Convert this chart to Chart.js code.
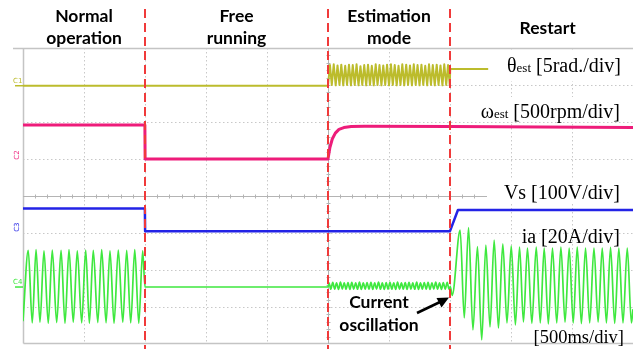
<!DOCTYPE html>
<html>
<head>
<meta charset="utf-8">
<script src="https://cdn.jsdelivr.net/npm/chart.js@4.4.1/dist/chart.umd.min.js"></script>
<style>
  html, body { margin: 0; padding: 0; background: #fff; overflow: hidden; }
  canvas { display: block; }
</style>
</head>
<body>
<canvas id="scope" width="633" height="349"></canvas>
<script>
// Time axis in ms (500 ms per division, 10 divisions)
const timeSpan = [0, 5000];
const phaseBounds = [1000, 2500, 3500];
const phaseNames = [["Normal", "operation"], ["Free", "running"], ["Estimation", "mode"], ["Restart"]];

// Channel scales (units per division) and ground levels (division from the bottom)
const channelNames = ["C1", "C2", "C3", "C4"];
const unitsPerDiv = [5, 500, 100, 20];
const groundDiv = [6.98, 5.0, 3.05, 1.54];

// C1: estimated rotor angle [rad]
const thetaEst = [
  [0, 0], [2500, 0],
  [2516, 2.8], [2531, 0.1], [2547, 2.9], [2563, 0.05], [2578, 2.75], [2594, 0.1], [2609, 2.85], [2625, 0.05],
  [2641, 2.7], [2656, 0.1], [2672, 2.85], [2688, 0.05], [2703, 2.8], [2719, 0.1], [2734, 2.9], [2750, 0.05],
  [2766, 2.65], [2781, 0.1], [2797, 2.8], [2813, 0.05], [2828, 2.85], [2844, 0.1], [2859, 2.7], [2875, 0.05],
  [2891, 2.9], [2906, 0.1], [2922, 2.8], [2938, 0.05], [2953, 2.75], [2969, 0.1], [2984, 2.85], [3000, 0.05],
  [3016, 2.9], [3031, 0.1], [3047, 2.8], [3063, 0.05], [3078, 2.7], [3094, 0.1], [3109, 2.9], [3125, 0.05],
  [3141, 2.85], [3156, 0.1], [3172, 2.75], [3188, 0.05], [3203, 2.9], [3219, 0.1], [3234, 2.8], [3250, 0.05],
  [3266, 2.85], [3281, 0.1], [3297, 2.7], [3313, 0.05], [3328, 2.9], [3344, 0.1], [3359, 2.8], [3375, 0.05],
  [3391, 2.85], [3406, 0.1], [3422, 2.75], [3438, 0.05], [3453, 2.9], [3469, 0.1], [3484, 2.8], [3498, 0.05],
  [3502, 2.25], [3813, 2.25]
];

// C2: estimated speed [rpm]
const omegaEst = [
  [0, 460], [999, 460], [1001, 0], [2500, 0], [2515, 150], [2535, 270], [2560, 350], [2590, 400],
  [2630, 425], [2690, 440], [2800, 442], [3500, 438], [5000, 425]
];

// C3: stator voltage [V]
const vsVolt = [
  [0, 61], [999, 61], [1001, 0], [3500, 0], [3565, 57], [5000, 57]
];

// C4: phase current [A]
const iaAmp = [
  [0, -18.5], [43, 19.8], [76, -19.4], [107, 20.2], [139, -19.0], [172, 19.6], [207, -19.6], [240, 20.0],
  [276, -19.2], [312, 19.8], [344, -19.6], [377, 20.2], [412, -19.0], [445, 19.6], [481, -19.4], [514, 20.0],
  [544, -19.6], [576, 19.8], [613, -19.2], [645, 20.2], [681, -19.4], [713, 19.6], [746, -19.6], [781, 20.0],
  [818, -19.0], [850, 19.8], [883, -19.4], [916, 20.2], [949, -19.6], [981, 19.6], [1000, 0],
  [2500, 0],
  [2508, 2.3], [2523, -1.2], [2539, 2.5], [2555, -1.1], [2570, 2.2], [2586, -1.3], [2602, 2.6], [2617, -1.1],
  [2633, 2.3], [2648, -1.2], [2664, 2.4], [2680, -1.3], [2695, 2.5], [2711, -1.1], [2727, 2.3], [2742, -1.2],
  [2758, 2.6], [2773, -1.3], [2789, 2.2], [2805, -1.1], [2820, 2.4], [2836, -1.2], [2852, 2.5], [2867, -1.3],
  [2883, 2.3], [2898, -1.1], [2914, 2.6], [2930, -1.2], [2945, 2.2], [2961, -1.3], [2977, 2.4], [2992, -1.1],
  [3008, 2.5], [3023, -1.2], [3039, 2.3], [3055, -1.3], [3070, 2.6], [3086, -1.1], [3102, 2.2], [3117, -1.2],
  [3133, 2.4], [3148, -1.3], [3164, 2.5], [3180, -1.1], [3195, 2.3], [3211, -1.2], [3227, 2.6], [3242, -1.3],
  [3258, 2.2], [3273, -1.1], [3289, 2.4], [3305, -1.2], [3320, 2.5], [3336, -1.3], [3352, 2.3], [3367, -1.1],
  [3383, 2.6], [3398, -1.2], [3414, 2.2], [3430, -1.3], [3445, 2.4], [3461, -1.1], [3477, 2.5], [3492, -1.2],
  [3502, 0.2], [3518, -4.5], [3583, 30.8], [3617, -16.7], [3652, 32.1], [3688, -23.2], [3725, 21.8], [3760, -28.6],
  [3794, 22.7], [3828, -21.6], [3862, 25.4], [3897, -22.2], [3933, 23.3], [3967, -19.4], [4002, 22.2], [4036, -20.5],
  [4070, 21.6], [4102, -18.9], [4135, 21.1], [4171, -19.6], [4207, 21.6], [4240, -19.4], [4272, 21.1], [4306, -20.0],
  [4340, 21.1], [4375, -19.4], [4409, 21.6], [4443, -19.0], [4477, 21.1], [4510, -19.4], [4543, 21.6], [4577, -19.8],
  [4611, 21.1], [4645, -19.4], [4680, 21.1], [4714, -19.0], [4748, 21.1], [4782, -19.4], [4816, 21.4], [4850, -19.6],
  [4884, 21.1], [4918, -19.4], [4953, 21.1], [4987, -19.4], [5000, -12]
];

const traceColors = ["#bcbc2c", "#ee1c7a", "#2323e6", "#3fe83f"];
const traceWidths = [2, 3, 2.5, 1.7];
const traces = [thetaEst, omegaEst, vsVolt, iaAmp];

// convert each channel into screen divisions using its scale and ground level
function toDivisions(series, ch) {
  return series.map(([t, v]) => ({ x: t, y: groundDiv[ch] + v / unitsPerDiv[ch] }));
}

const datasets = traces.map((series, ch) => ({
  label: channelNames[ch],
  data: toDivisions(series, ch),
  borderColor: traceColors[ch],
  borderWidth: traceWidths[ch],
  pointRadius: 0,
  fill: false,
  tension: 0,
  cubicInterpolationMode: ch === 3 ? 'monotone' : 'default',
  borderJoinStyle: 'round'
}));

function strokeLine(ctx, x1, y1, x2, y2) {
  ctx.beginPath(); ctx.moveTo(x1, y1); ctx.lineTo(x2, y2); ctx.stroke();
}

// scope graticule: dotted divisions, frame, centre axes with minor ticks
const graticule = {
  id: 'graticule',
  beforeDatasetsDraw(chart) {
    const { ctx, chartArea: a, scales: { x, y } } = chart;
    ctx.save();
    ctx.lineWidth = 1;
    ctx.strokeStyle = '#c8c8c8';
    ctx.setLineDash([1.5, 2.5]);
    for (let t = 500; t < 5000; t += 500) {
      const px = Math.round(x.getPixelForValue(t)) + 0.5;
      strokeLine(ctx, px, a.top, px, a.bottom);
    }
    for (let d = 1; d < 8; d++) {
      if (d === 4) continue;
      const py = Math.round(y.getPixelForValue(d)) + 0.5;
      strokeLine(ctx, a.left, py, a.right, py);
    }
    ctx.setLineDash([]);
    ctx.strokeStyle = '#c4c4c4';
    const L = Math.round(a.left) + 0.5, T = Math.round(a.top) + 0.5, B = Math.round(a.bottom) - 0.5;
    ctx.lineWidth = 1.5;
    strokeLine(ctx, L, T, L, B);
    strokeLine(ctx, 13, T, a.right, T);
    strokeLine(ctx, L, B, a.right, B);
    // centre axes
    ctx.lineWidth = 1;
    ctx.strokeStyle = '#b4b4b4';
    const cy = Math.round(y.getPixelForValue(4)) + 0.5;
    const cx = Math.round(x.getPixelForValue(2500)) + 0.5;
    strokeLine(ctx, a.left, cy, a.right, cy);
    strokeLine(ctx, cx, a.top, cx, a.bottom);
    for (let t = 100; t < 5000; t += 100) {
      const px = Math.round(x.getPixelForValue(t)) + 0.5;
      strokeLine(ctx, px, cy - 2, px, cy + 2);
    }
    for (let d = 0.2; d < 8; d += 0.2) {
      const py = Math.round(y.getPixelForValue(d)) + 0.5;
      strokeLine(ctx, cx - 2, py, cx + 2, py);
    }
    // channel ground markers
    ctx.font = '7px "DejaVu Sans"';
    ctx.textBaseline = 'alphabetic';
    channelNames.forEach((name, ch) => {
      const gy = y.getPixelForValue(groundDiv[ch]);
      ctx.fillStyle = traceColors[ch];
      ctx.strokeStyle = traceColors[ch];
      if (ch === 0 || ch === 3) {
        ctx.textAlign = 'left';
        ctx.fillText(name, 13, gy - 3);
        ctx.lineWidth = 1.5;
        strokeLine(ctx, 15, gy, a.left, gy);
      } else {
        ctx.save();
        ctx.translate(19, gy - 4);
        ctx.rotate(-Math.PI / 2);
        ctx.textAlign = 'center';
        ctx.fillText(name, 0, 0);
        ctx.restore();
      }
    });
    ctx.restore();
  },
  afterDatasetsDraw(chart) {
    const { ctx, chartArea: a, scales: { x, y } } = chart;
    ctx.save();
    // phase boundaries
    ctx.strokeStyle = '#f03a3a';
    ctx.lineWidth = 2;
    ctx.setLineDash([9, 5]);
    phaseBounds.forEach(t => {
      const px = Math.round(x.getPixelForValue(t));
      strokeLine(ctx, px, 9, px, 349);
    });
    ctx.setLineDash([]);

    // phase titles
    ctx.fillStyle = '#000';
    ctx.font = 'bold 17.5px Lato';
    ctx.textAlign = 'center';
    const centres = [500, 1750, 3000, 4300];
    phaseNames.forEach((lines, i) => {
      const cx = x.getPixelForValue(centres[i]);
      if (lines.length === 2) {
        ctx.fillText(lines[0], cx, 22);
        ctx.fillText(lines[1], cx, 44);
      } else {
        ctx.fillText(lines[0], cx, 34);
      }
    });

    // channel captions on white boxes
    ctx.fillStyle = '#fff';
    ctx.fillRect(490, 50, 143, 31);
    ctx.fillRect(484, 97, 149, 25);
    ctx.fillRect(487, 179, 146, 25);
    const caption = (parts, right, base) => {
      let w = 0;
      parts.forEach(p => { ctx.font = p[1] + 'px "Liberation Serif"'; w += ctx.measureText(p[0]).width; });
      let px = right - w;
      ctx.textAlign = 'left';
      ctx.fillStyle = '#000';
      parts.forEach(p => {
        ctx.font = p[1] + 'px "Liberation Serif"';
        ctx.fillText(p[0], px, base);
        px += ctx.measureText(p[0]).width;
      });
    };
    caption([["θ", 20], ["est", 13], [" [5rad./div]", 20]], 621, 72);
    caption([["ω", 20], ["est", 13], [" [500rpm/div]", 20]], 620, 118);
    caption([["Vs [100V/div]", 20]], 620, 199);
    caption([["ia [20A/div]", 20]], 620, 243);
    caption([["[500ms/div]", 18.5]], 624, 343);

    // annotation with arrow
    ctx.fillStyle = '#000';
    ctx.font = 'bold 17.5px Lato';
    ctx.textAlign = 'center';
    ctx.fillText('Current', 379, 308);
    ctx.fillText('oscillation', 379, 331);
    ctx.strokeStyle = '#000';
    ctx.lineWidth = 2.5;
    strokeLine(ctx, 417, 313, 440, 302);
    ctx.beginPath();
    ctx.moveTo(449, 297.5);
    ctx.lineTo(436.5, 298);
    ctx.lineTo(441.5, 307.5);
    ctx.closePath();
    ctx.fill();
    ctx.restore();
  }
};

new Chart(document.getElementById('scope'), {
  type: 'line',
  data: { datasets },
  options: {
    responsive: false,
    animation: false,
    devicePixelRatio: 1,
    parsing: false,
    layout: { padding: { left: 23, top: 48, right: 0, bottom: 5 } },
    plugins: { legend: { display: false }, tooltip: { enabled: false } },
    scales: {
      x: { type: 'linear', min: timeSpan[0], max: timeSpan[1], display: false },
      y: { type: 'linear', min: 0, max: 8, display: false }
    }
  },
  plugins: [graticule]
});
</script>
</body>
</html>
